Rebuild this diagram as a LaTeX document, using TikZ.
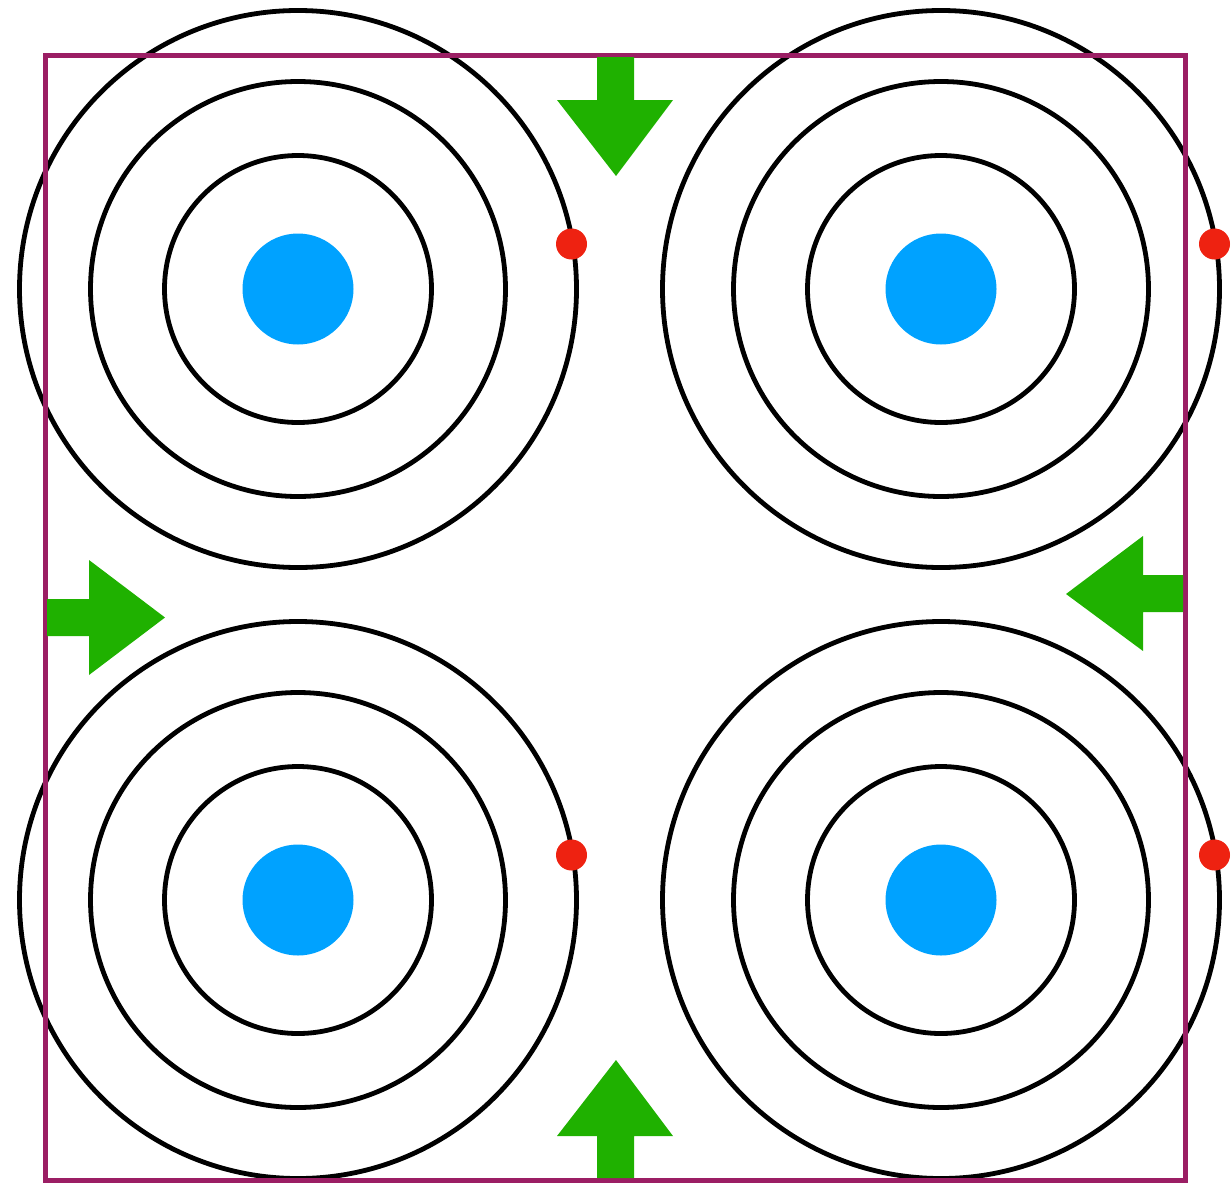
\documentclass[tikz,border=0pt]{standalone}
\usetikzlibrary{calc}
\definecolor{framepurple}{RGB}{155,30,100}
\definecolor{arrowgreen}{RGB}{31,177,0}
\definecolor{coreblue}{RGB}{0,162,255}
\definecolor{dotred}{RGB}{238,34,17}
\tikzset{
  ring/.style={draw=black,line width=4.8pt},
  core/.style={fill=coreblue},
  reddot/.style={fill=dotred},
  greenarrow/.style={fill=arrowgreen},
  framebox/.style={draw=framepurple,line width=5pt}
}
\begin{document}
\begin{tikzpicture}[x=1pt,y=-1pt]
\useasboundingbox (0,0) rectangle (1231,1189);
\coordinate (c1) at (298,289);
\coordinate (c2) at (941,289);
\coordinate (c3) at (298,900);
\coordinate (c4) at (941,900);
\foreach \c in {c1,c2,c3,c4}{
  \draw[ring] (\c) circle (278.5);
  \draw[ring] (\c) circle (207.5);
  \draw[ring] (\c) circle (133.5);
  \fill[core] (\c) circle (55.5);
  \fill[reddot] ($(\c)+(273.5,-45)$) circle (15.5);
}
\draw[framebox] (45.5,55) rectangle (1185,1180);
% top arrow (down)
\fill[greenarrow] (597,57) -- (634,57) -- (634,100) -- (673,100) -- (616,176) -- (557,100) -- (597,100) -- cycle;
% bottom arrow (up)
\fill[greenarrow] (597,1178) -- (634,1178) -- (634,1136) -- (673,1136) -- (616,1060) -- (557,1136) -- (597,1136) -- cycle;
% left arrow (right)
\fill[greenarrow] (47,599) -- (89,599) -- (89,560) -- (165,617.5) -- (89,675) -- (89,636) -- (47,636) -- cycle;
% right arrow (left)
\fill[greenarrow] (1183,575) -- (1143,575) -- (1143,536) -- (1066,594) -- (1143,651) -- (1143,612) -- (1183,612) -- cycle;
\end{tikzpicture}
\end{document}
